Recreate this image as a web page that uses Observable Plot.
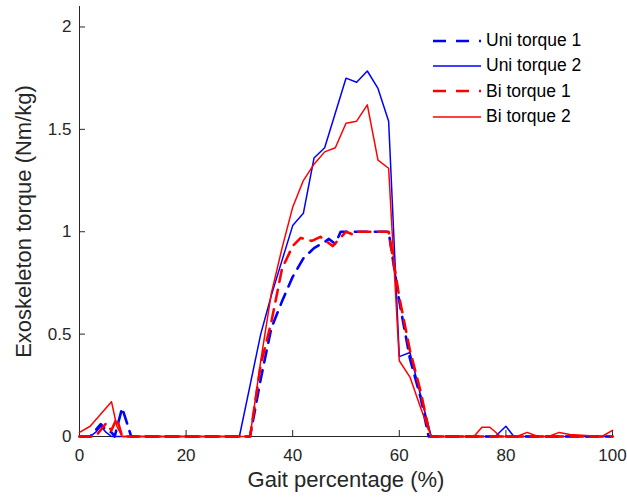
<!DOCTYPE html>
<html><head><meta charset="utf-8">
<script src="https://cdn.jsdelivr.net/npm/d3@7"></script>
<script src="https://cdn.jsdelivr.net/npm/@observablehq/plot@0.6"></script>
<style>
body{margin:0;background:#fff;}
#wrap{position:relative;width:627px;height:503px;font-family:"Liberation Sans",Arial,sans-serif;}
#legend{position:absolute;left:433px;top:28px;}
.lrow{display:flex;align-items:center;height:25.3px;font-size:17.5px;color:#000;}
.lrow svg{margin-right:5px;}
</style></head><body><div id="wrap"><div id="legend"></div></div>
<script>
// Uni torque 1 (blue dashed)
const uni1X = [0,2,4,5,6,6.6,8,9.7,30,32,34,36,38,40,42,44,46,46.8,48,49,52,54,56,58,60,62,64,65.5,100];
const uni1Y = [0,0,0.06,0.03,0.02,0,0.14,0,0,0,0.28,0.53,0.66,0.78,0.87,0.92,0.95,0.965,0.94,1.0,1.0,1.0,1.0,1.0,0.66,0.38,0.19,0,0];
// Uni torque 2 (blue solid)
const uni2X = [0,2,3,4,5,6,30,32,34,36,38,40,42,44,46,48,50,52,54,56,58,60,62,64,66,78,80,81.5,100];
const uni2Y = [0,0,0.02,0.05,0.02,0,0,0.25,0.50,0.69,0.86,1.03,1.09,1.36,1.41,1.58,1.75,1.73,1.785,1.70,1.54,0.39,0.41,0.20,0,0,0.05,0,0];
// Bi torque 1 (red dashed)
const bi1X = [0,3,5,6,7,8,30,32,34,36,38,40,41.5,43.6,45.2,47.5,50,51.4,52,54,56,58,60,62,64,65.8,100];
const bi1Y = [0,0,0.065,0.03,0.09,0,0,0,0.35,0.56,0.82,0.93,0.97,0.955,0.975,0.93,1.0,0.985,1.0,1.0,1.0,1.0,0.68,0.42,0.22,0,0];
// Bi torque 2 (red solid)
const bi2X = [0,2,4,6,7,8,30,32,34,36,38,40,42,44,46,48,50,52,54,56,58,60,62,64,66,74,75.5,77,79,82,84,86,88,90,92,98,100];
const bi2Y = [0.02,0.05,0.11,0.17,0.05,0,0,0,0.37,0.70,0.92,1.12,1.25,1.33,1.39,1.41,1.53,1.54,1.62,1.35,1.31,0.37,0.29,0.14,0,0,0.045,0.045,0,0,0.02,0,0,0.02,0.01,0,0.03];

const seriesNames = ["Uni torque 1","Uni torque 2","Bi torque 1","Bi torque 2"];
const xTicks = [0,20,40,60,80,100];
const yTicks = [0,0.5,1,1.5,2];

const series = [
  {name: seriesNames[0], x: uni1X, y: uni1Y, color: "#0000ff", dash: true},
  {name: seriesNames[1], x: uni2X, y: uni2Y, color: "#0000ff", dash: false},
  {name: seriesNames[2], x: bi1X, y: bi1Y, color: "#ff0000", dash: true},
  {name: seriesNames[3], x: bi2X, y: bi2Y, color: "#ff0000", dash: false}
];
const rows = series.map(s => s.x.map((x, i) => ({name: s.name, x, y: s.y[i]})));

const W = 627, H = 503, mL = 79, mR = 15, mT = 6, mB = 67;
const axisColor = "#262626";

const plot = Plot.plot({
  width: W, height: H,
  marginLeft: mL, marginRight: mR, marginTop: mT, marginBottom: mB,
  style: {fontFamily: "'Liberation Sans', Arial, sans-serif", fontSize: "17px", color: axisColor, background: "white"},
  x: {domain: [0, 100]},
  y: {domain: [0, 2.1]},
  marks: [
    Plot.ruleY([0], {stroke: axisColor, strokeWidth: 1}),
    Plot.ruleX([0], {stroke: axisColor, strokeWidth: 1}),
    Plot.tickX(xTicks, {x: d => d, insetTop: H - mT - mB - 6, stroke: axisColor}),
    Plot.tickY(yTicks, {y: d => d, insetRight: W - mL - mR - 6, stroke: axisColor}),
    Plot.axisX(xTicks, {tickSize: 0, tickPadding: 12, label: null, fontSize: 17, fill: axisColor}),
    Plot.axisY(yTicks, {tickSize: 0, tickPadding: 8, label: null, fontSize: 17, fill: axisColor, tickFormat: d => String(d)}),
    Plot.text(["Gait percentage (%)"], {frameAnchor: "bottom", dy: 50, fontSize: 22, fill: axisColor, text: d => d, textAnchor: "middle"}),
    Plot.text(["Exoskeleton torque (Nm/kg)"], {frameAnchor: "left", dx: -56, rotate: -90, fontSize: 22, fill: axisColor, text: d => d, textAnchor: "middle"}),
    ...series.map((s, i) => Plot.line(rows[i], {
      x: "x", y: "y", stroke: s.color,
      strokeWidth: s.dash ? 2.6 : 1.5,
      strokeDasharray: s.dash ? "12,8" : null,
      strokeLinejoin: "round"
    }))
  ]
});
document.getElementById("wrap").prepend(plot);

const legend = document.getElementById("legend");
series.forEach(s => {
  const row = document.createElement("div");
  row.className = "lrow";
  const dash = s.dash ? `stroke-dasharray="13,10"` : "";
  row.innerHTML = `<svg width="48" height="6"><line x1="0" y1="3" x2="48" y2="3" stroke="${s.color}" stroke-width="${s.dash ? 2.6 : 1.5}" ${dash}/></svg><span>${s.name}</span>`;
  legend.appendChild(row);
});
</script>
</body></html>
